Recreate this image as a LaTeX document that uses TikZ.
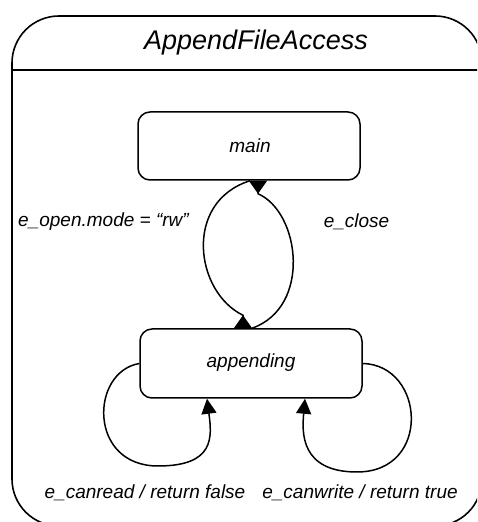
\documentclass[tikz,border=0pt]{standalone}
\usepackage{fontspec}
\setmainfont{Liberation Sans}
\usetikzlibrary{arrows.meta,calc}
\tikzset{
  statebox/.style={draw, line width=1.5pt, rounded corners=12pt, minimum width=222pt, minimum height=68pt, inner sep=0pt},
  lbl/.style={font=\fontsize{19}{21}\selectfont\itshape, inner sep=0pt},
  conn/.style={line width=1.5pt},
  fwd/.style={conn, -{Triangle[length=15pt, width=15pt]}},
  rev/.style={conn, -{Triangle[reversed, length=13pt, width=18pt]}}
}
\begin{document}
\begin{tikzpicture}[x=1pt, y=1pt]
\useasboundingbox (0,0) rectangle (477,522);
\clip (0,0) rectangle (477,522);
\fill[white] (0,0) rectangle (477,522);
% outer container
\draw[line width=1.6pt, rounded corners=47pt] (12,-4) rectangle (482,506);
\coordinate (divL) at (12,452);
\coordinate (divR) at (482,452);
\draw[line width=1.6pt] (divL) -- (divR);
\node[font=\fontsize{27}{30}\selectfont\itshape, inner sep=0pt] (title) at (256,479) {AppendFileAccess};
% states
\node[statebox] (main) at (249,376) {};
\node[lbl] (maintxt) at (250,376) {main};
\node[statebox, minimum height=69pt] (app) at (251,158.5) {};
\node[lbl] (apptxt) at (251,159) {appending};
% transitions main <-> appending
\draw[rev] ([xshift=1pt]main.south) .. controls (183,320) and (195,230) .. ([xshift=-8pt, yshift=13pt]app.north) -- ([xshift=-8pt]app.north);
\draw[rev] ([xshift=1pt]app.north) .. controls (312,215) and (300,310) .. ([xshift=9pt, yshift=-13pt]main.south) -- ([xshift=9pt]main.south);
% self loops
\draw[fwd] (app.west) .. controls (90,150) and (88,56) .. (158,56) .. controls (215,56) and (212,85) .. ([xshift=-44pt]app.south);
\draw[fwd] (app.east) .. controls (425,157) and (432,50) .. (357,50) .. controls (300,50) and (302,90) .. ([xshift=54pt]app.south);
% labels
\node[lbl] (l1) at (103.5,300) {e\_open.mode = “rw”};
\node[lbl] (l2) at (356.5,300) {e\_close};
\node[lbl] (l3) at (145,29) {e\_canread / return false};
\node[lbl] (l4) at (360,29) {e\_canwrite / return true};
\end{tikzpicture}
\end{document}
